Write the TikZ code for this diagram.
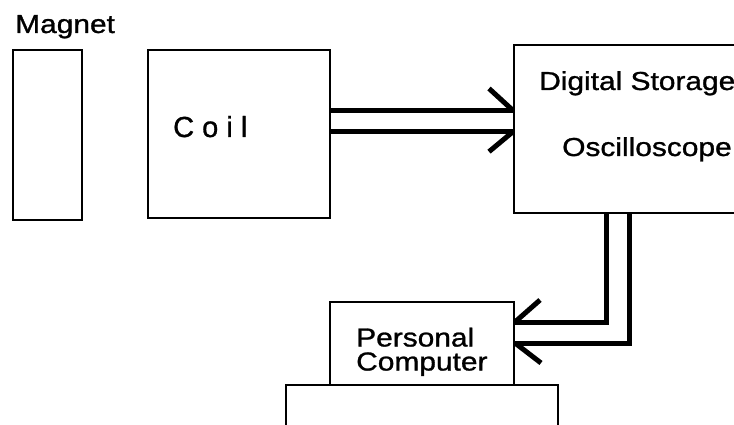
\documentclass[tikz,border=0pt]{standalone}
\usepackage{fontspec}
\setmainfont{Liberation Sans}[AutoFakeBold=1]
\usetikzlibrary{calc}

\tikzset{
  box/.style={draw, line width=2pt, rectangle, inner sep=0pt},
  wire/.style={line width=5pt},
  lbl/.style={anchor=base west, inner sep=0pt, xscale=1.15,
              font=\fontsize{26}{24}\selectfont\bfseries}
}

\begin{document}
\begin{tikzpicture}[x=1pt,y=-1pt]
        \useasboundingbox (0,0) rectangle (734,425);
        %画方框
        \node[box, minimum width=69, minimum height=170] (magnet) at (47.5,135) {};
        \node[box, minimum width=182, minimum height=168] (coil) at (239,134) {};
        \node[box, minimum width=246, minimum height=168] (dso) at (637,129) {};
        \node[box, minimum width=184, minimum height=83] (pc) at (422,343.5) {};
        \node[box, minimum width=272, minimum height=75] (base) at (422,422.5) {};
        %标文字
        \node[lbl] (magnetlbl) at (15,33) {Magnet};
        \node[anchor=base west, inner sep=0pt, font=\fontsize{29}{32}\selectfont\bfseries] (coillbl) at (173,137) {C o i l};
        \node[lbl] (dsolbla) at (539,90) {Digital Storage};
        \node[lbl] (dsolblb) at (562,156) {Oscilloscope};
        \node[lbl, align=left] (pclbl) at (356,370.5) {Personal\\Computer};
        %线圈到示波器
        \coordinate (ina) at ($(dso.west)+(0,-18.5)$);
        \coordinate (inb) at ($(dso.west)+(0,2.7)$);
        \draw[wire] ($(coil.east)+(0,-23.5)$) -- (ina);
        \draw[wire] ($(coil.east)+(0,-2.3)$) -- (inb);
        \draw[wire] (ina) -- ++(-24,-22);
        \draw[wire] (inb) -- ++(-24,20);
        %示波器到电脑
        \coordinate (pca) at ($(pc.east)+(0,-21.5)$);
        \coordinate (pcb) at ($(pc.east)+(0,-0.5)$);
        \draw[wire] ($(dso.south)+(-31,0)$) |- (pca);
        \draw[wire] ($(dso.south)+(-8,0)$) |- (pcb);
        \draw[wire] (pca) -- ++(25,-22);
        \draw[wire] (pcb) -- ++(26,20);
\end{tikzpicture}
\end{document}
